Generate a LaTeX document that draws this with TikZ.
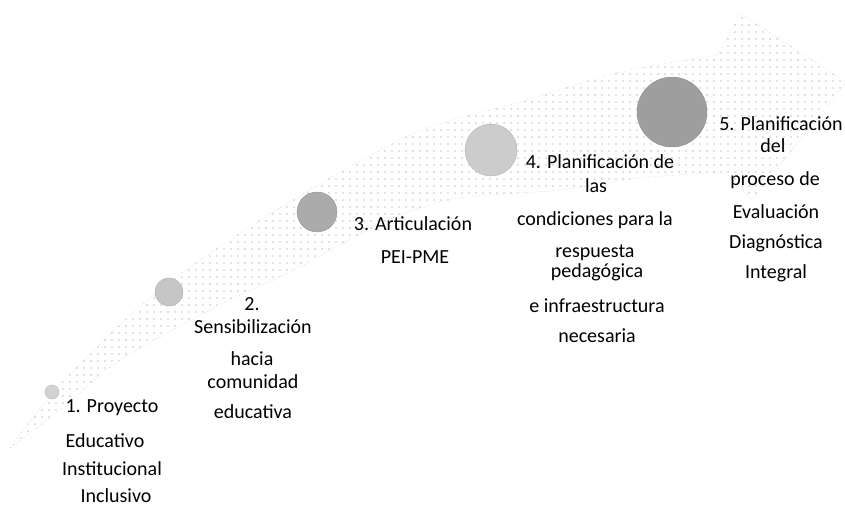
\documentclass[tikz,border=0pt]{standalone}
\usepackage{fontspec}
\setmainfont{Carlito}
\usetikzlibrary{patterns.meta}

\begin{document}
\begin{tikzpicture}[x=1pt,y=-1pt]
		\tikzstyle{every node}=[font=\fontsize{20pt}{24pt}\selectfont, anchor=base, inner sep=0pt]
		\useasboundingbox (0,0) rectangle (845,515);
		
		% curved arrow band
		\draw [gray!60, dotted, pattern={Dots[distance=7pt,radius=0.6pt]}, pattern color=black!50]
			plot [smooth] coordinates {(10,448) (60,385) (150,298) (260,220) (410,135) (520,102) (620,72) (718,55)}
			-- (740,13) -- (846,82) -- (752,200) -- (725,172)
			-- plot [smooth] coordinates {(725,172) (640,178) (560,190) (460,198) (400,215) (340,245) (290,272) (220,305) (120,360) (60,410) (10,448)}
			-- cycle;
		
		% steps
		\fill [gray!35, draw=gray!55] (52,392) circle (7);
		\fill [gray!45, draw=gray!65] (169,292) circle (14);
		\fill [gray!66, draw=gray!82] (317,212) circle (20);
		\fill [gray!40, draw=gray!60] (491,150) circle (26);
		\fill [gray!76, draw=gray!88] (672,112) circle (35);
		
		\node (s1a) at (112,412) {1. Proyecto};
		\node (s1b) at (105,447) {Educativo};
		\node (s1c) at (112,475) {Institucional};
		\node (s1d) at (116,502) {Inclusivo};
		
		\node (s2a) at (252,310) {2.};
		\node (s2b) at (253,333) {Sensibilización};
		\node (s2c) at (252,365) {hacia};
		\node (s2d) at (253,388) {comunidad};
		\node (s2e) at (253,418) {educativa};
		
		\node (s3a) at (413,230) {3. Articulación};
		\node (s3b) at (415,263) {PEI-PME};
		
		\node (s4a) at (600,168) {4. Planificación de};
		\node (s4b) at (596,192) {las};
		\node (s4c) at (595,225) {condiciones para la};
		\node (s4d) at (595,257) {respuesta};
		\node (s4e) at (597,277) {pedagógica};
		\node (s4f) at (597,312) {e infraestructura};
		\node (s4g) at (597,342) {necesaria};
		
		\node (s5a) at (781,130) {5. Planificación};
		\node (s5b) at (773,152) {del};
		\node (s5c) at (775,185) {proceso de};
		\node (s5d) at (776,218) {Evaluación};
		\node (s5e) at (776,248) {Diagnóstica};
		\node (s5f) at (776,278) {Integral};
		
	\end{tikzpicture}
\end{document}
